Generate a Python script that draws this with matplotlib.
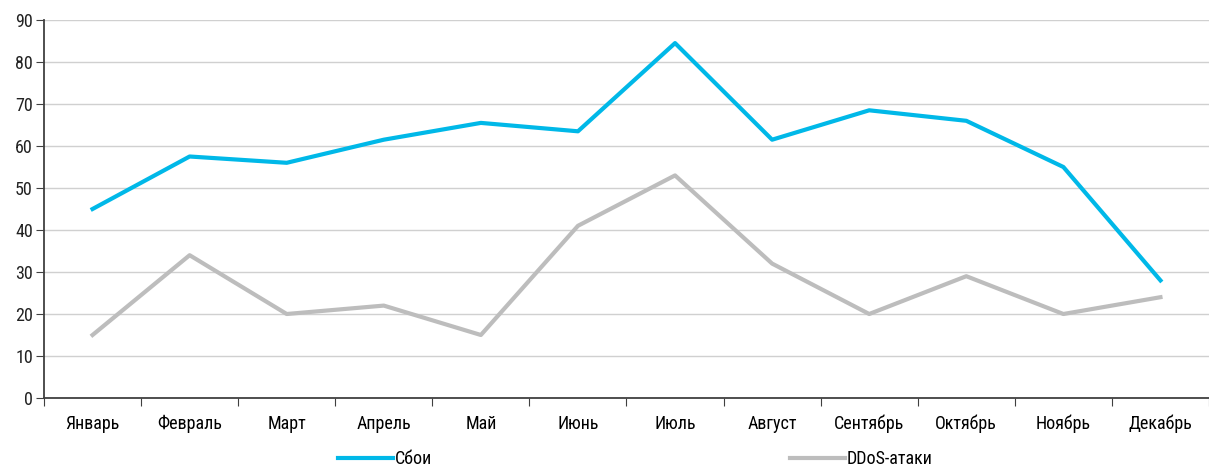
import matplotlib.pyplot as plt
import numpy as np

months = ["Январь", "Февраль", "Март", "Апрель", "Май", "Июнь",
          "Июль", "Август", "Сентябрь", "Октябрь", "Ноябрь", "Декабрь"]
failures = [45, 57.5, 56, 61.5, 65.5, 63.5, 84.5, 61.5, 68.5, 66, 55, 28]
ddos = [15, 34, 20, 22, 15, 41, 53, 32, 20, 29, 20, 24]

plt.rcParams["font.family"] = ["Roboto Condensed", "Roboto", "DejaVu Sans"]
plt.rcParams["font.size"] = 13

fig = plt.figure(figsize=(12.09, 4.66), dpi=100)
ax = fig.add_axes([44 / 1209, 1 - 398 / 466, 1 - 44 / 1209, (398 - 20) / 466])

x = np.arange(len(months))
ax.plot(x, failures, color="#00B8E8", lw=3, label="Сбои")
ax.plot(x, ddos, color="#BDBDBD", lw=3, label="DDoS-атаки")

ax.set_xlim(-0.5, len(months) - 0.5)
ax.set_ylim(0, 90)
ax.set_yticks(range(0, 91, 10))
ax.yaxis.grid(True, color="#D0D0D0", lw=1)
ax.set_axisbelow(True)

# category boundary ticks, labels centred in between
ax.set_xticks(np.arange(-0.5, len(months), 1))
ax.set_xticklabels([])
ax.set_xticks(x, minor=True)
ax.set_xticklabels(months, minor=True)
ax.tick_params(axis="x", which="minor", length=0, pad=12)
ax.tick_params(axis="x", which="major", length=6, color="#404040")
ax.tick_params(axis="y", length=6, color="#404040", pad=2)
ax.tick_params(labelcolor="#222222", labelsize=13)

for side in ["top", "right"]:
    ax.spines[side].set_visible(False)
for side in ["left", "bottom"]:
    ax.spines[side].set_color("#404040")
    ax.spines[side].set_linewidth(1.3)

fig.legend(loc="center left", bbox_to_anchor=(338 / 1209, 0.015), ncol=2, frameon=False,
           columnspacing=19.8, handlelength=3.05, handletextpad=0.1, fontsize=13,
           borderaxespad=0, borderpad=0)

fig.savefig("out.png", dpi=100)
